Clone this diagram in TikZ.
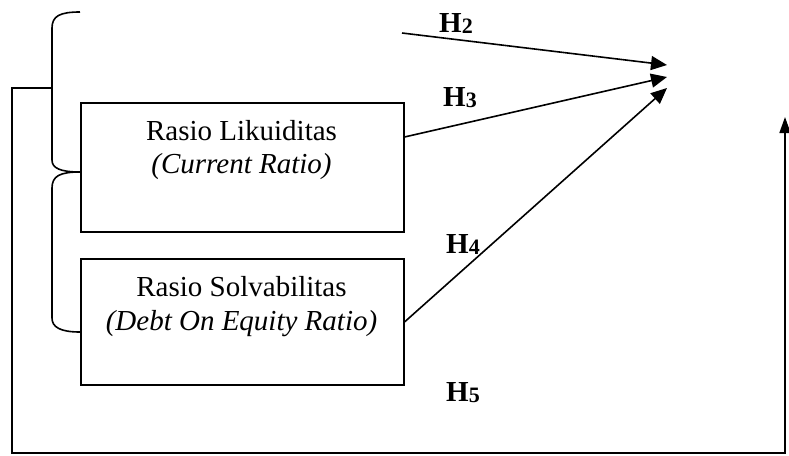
\documentclass[tikz,border=0pt]{standalone}
\usepackage{fontspec}
\setmainfont{Liberation Serif}
\usetikzlibrary{arrows.meta}
\newcommand{\hyp}[1]{{\bfseries H{\fontsize{22}{22}\selectfont\raisebox{-1pt}{#1}}}}
\begin{document}
\begin{tikzpicture}[x=1pt,y=-1pt,
  every node/.style={font=\fontsize{29}{33}\selectfont},
  varbox/.style={draw,line width=1.5pt,minimum width=323pt,minimum height=129pt,inner sep=0pt,anchor=north west},
  boxtext/.style={anchor=base,inner sep=0pt},
  hlabel/.style={anchor=base west,inner sep=0pt},
  conn/.style={line width=1.6pt},
  arr/.style={conn,-{Triangle[length=16pt,width=14pt]}}]
\useasboundingbox (0,0) rectangle (789,455);
% boxes
\node[varbox] (box1) at (80,102) {};
\node[varbox,minimum height=126pt] (box2) at (80,258) {};
\node[boxtext] (t1a) at (241.5,140) {Rasio Likuiditas};
\node[boxtext] (t1b) at (241.5,173) {\itshape (Current Ratio)};
\node[boxtext] (t2a) at (241.5,296) {Rasio Solvabilitas};
\node[boxtext] (t2b) at (241.5,330) {\itshape (Debt On Equity Ratio)};
% labels
\node[hlabel] (h2) at (439,32) {\hyp{2}};
\node[hlabel] (h3) at (443,106) {\hyp{3}};
\node[hlabel] (h4) at (446,253) {\hyp{4}};
\node[hlabel] (h5) at (446,401) {\hyp{5}};
% coordinates
\coordinate (s2) at (402,33);
\coordinate (e2) at (667,65);
\coordinate (e3) at (667,77);
\coordinate (e4) at (667,88);
\coordinate (s3) at (box1.east |- 0,137);
\coordinate (s4) at (box2.east |- 0,322);
\coordinate (bt) at (52,88);
\coordinate (c1) at (12,88);
\coordinate (c2) at (12,453);
\coordinate (c3) at (785,453);
\coordinate (e5) at (785,117);
% braces
\draw[conn] (80,12) .. controls (60,12) and (52,16) .. (52,28) -- (52,160) .. controls (52,168) and (60,172) .. (80,172);
\draw[conn] (80,172) .. controls (60,172) and (52,176) .. (52,188) -- (52,318) .. controls (52,327) and (60,332) .. (80,332);
% arrows
\draw[arr] (s2) -- (e2);
\draw[arr] (s3) -- (e3);
\draw[arr] (s4) -- (e4);
\draw[conn,-{Triangle[length=16pt,width=11pt]}] (bt) -- (c1) -- (c2) -- (c3) -- (e5);
\end{tikzpicture}
\end{document}
